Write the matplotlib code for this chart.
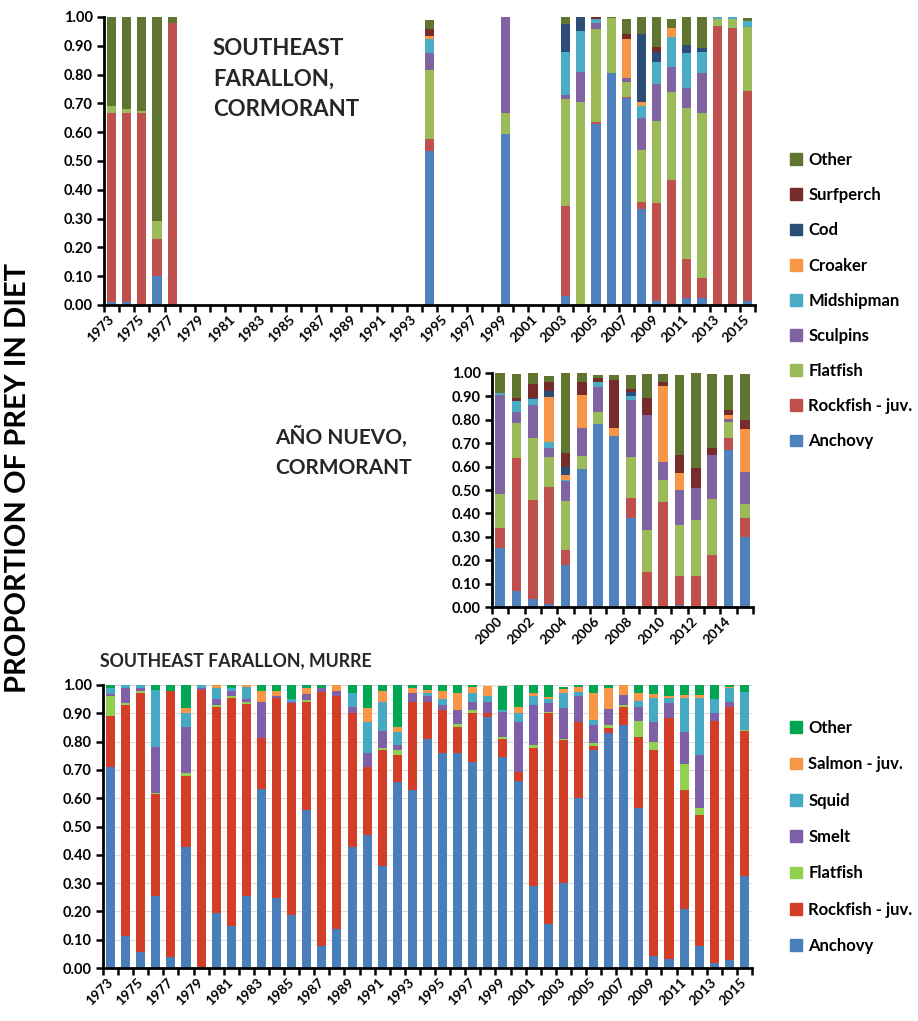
import numpy as np
import matplotlib
matplotlib.use("Agg")
import matplotlib.pyplot as plt
from matplotlib.patches import Patch

plt.rcParams['font.family'] = ['Lato', 'DejaVu Sans']
plt.rcParams['font.weight'] = 'bold'

# ---- data ----
all_years = list(range(1973, 2016))

# Southeast Farallon cormorant (only years with samples)
sefi_corm_years = [1973, 1974, 1975, 1976, 1977, 1994, 1999, 2003, 2004, 2005,
                   2006, 2007, 2008, 2009, 2010, 2011, 2012, 2013, 2014, 2015]
sc_anchovy = [.01, .01, .005, .10, 0, .535, .595, .03, 0, .63, .804, .72, .333, .014, 0, .023, .025, 0, 0, .014]
sc_rockfish = [.655, .655, .66, .13, .98, .04, 0, .315, 0, .007, 0, .003, .023, .341, .434, .137, .068, .968, .961, .728]
sc_flatfish = [.025, .015, .01, .06, 0, .24, .07, .37, .705, .32, .193, .05, .182, .285, .307, .525, .573, .025, .032, .223]
sc_sculpins = [0, 0, 0, 0, 0, .06, .335, .015, .105, .021, 0, .016, .11, .127, .087, .07, .138, 0, 0, 0]
sc_midshipman = [0, 0, 0, 0, 0, .05, 0, .15, .14, .015, 0, 0, .044, .076, .104, .119, .076, .007, .007, .02]
sc_croaker = [0, 0, 0, 0, 0, .01, 0, 0, 0, 0, 0, .133, .014, 0, .029, 0, 0, 0, 0, 0]
sc_cod = [0, 0, 0, 0, 0, 0, 0, .095, .05, 0, 0, 0, .234, .037, 0, .029, .014, 0, 0, 0]
sc_surfperch = [0, 0, 0, 0, 0, .025, 0, 0, 0, .007, 0, .018, 0, .015, 0, 0, 0, 0, 0, 0]
sc_other = [.31, .32, .325, .71, .02, .03, 0, .025, 0, 0, .003, .053, .06, .105, .032, .097, .106, 0, 0, .01]

# Año Nuevo cormorant
an_years = list(range(2000, 2016))
an_anchovy = [.253, .067, .036, .014, .179, .589, .781, .731, .379, 0, 0, .01, 0, 0, .671, .3]
an_rockfish = [.083, .569, .421, .5, .064, 0, 0, 0, .088, .15, .45, .121, .131, .221, .05, .079]
an_flatfish = [.147, .15, .267, .129, .21, .057, .052, 0, .173, .181, .093, .219, .24, .239, .068, .06]
an_sculpins = [.424, .047, .14, .038, .086, .118, .107, 0, .246, .488, .078, .15, .136, .19, .014, .14]
an_midshipman = [.007, .046, .026, .022, .004, 0, .02, 0, .017, .003, 0, 0, 0, 0, 0, 0]
an_croaker = [0, 0, 0, .194, .021, .14, 0, .033, 0, 0, .325, .071, 0, 0, .018, .181]
an_cod = [0, 0, .005, .024, .033, 0, 0, 0, .016, 0, 0, 0, 0, 0, 0, 0]
an_surfperch = [0, .014, .058, .04, .063, .056, .019, .207, .012, .071, .014, .079, .089, .029, .022, .04]
an_other = [.086, .104, .047, .028, .34, .04, .014, .022, .062, .104, .037, .343, .404, .318, .15, .197]

# Southeast Farallon murre (1973-2015)
mu_anchovy = [.712, .112, .055, .256, .039, .429, .005, .196, .149, .256, .632, .249, .188, .559, .079,
              .138, .429, .471, .359, .659, .629, .808, .759, .759, .729, .886, .745, .661, .288, .156,
              .3, .6, .771, .832, .859, .565, .044, .032, .21, .079, .018, .027, .324]
mu_rockfish = [.18, .817, .918, .359, .941, .251, .977, .725, .804, .676, .18, .706, .747, .382, .897,
               .823, .473, .241, .412, .094, .312, .133, .153, .092, .171, .014, .063, .03, .488, .744,
               .504, .271, .014, .015, .062, .253, .727, .85, .42, .462, .856, .897, .514]
mu_flatfish = [.069, .009, .007, .005, 0, .01, 0, .009, .008, .009, 0, 0, 0, .006, 0,
               0, 0, 0, .005, .018, 0, 0, 0, .011, .012, 0, .007, 0, .012, .006,
               .004, 0, .009, .012, .008, .056, .029, 0, .091, .024, 0, 0, .002]
mu_smelt = [.007, .05, .008, .16, 0, .161, .008, .02, .019, .009, .129, .006, .006, .021, .012,
            .019, .019, .047, .063, .017, .032, .02, .017, .05, .029, .041, .091, .18, .141, .029,
            .11, .09, .065, .055, .036, .047, .071, .056, .114, .188, .028, .017, 0]
mu_squid = [.02, .012, .012, .202, 0, .051, .01, .038, .008, .042, 0, 0, .009, 0, 0,
            0, .052, .112, .102, .047, 0, .012, .02, 0, .032, .02, .006, .031, .032, .014,
            .053, .015, .017, 0, 0, .024, .082, .015, .118, .2, .047, .047, .136]
mu_salmon = [0, 0, 0, 0, 0, .018, 0, .012, 0, .008, .039, .019, 0, .02, 0,
             .02, 0, .049, .039, .016, .015, .009, .031, .061, .019, .035, 0, .019, .012, .007,
             .014, .016, .097, .074, .035, .028, .015, .008, .012, .012, 0, .006, 0]
mu_other = [.012, 0, 0, .018, .02, .08, 0, 0, .012, 0, .02, .02, .05, .012, .012,
            0, .027, .08, .02, .149, .012, .018, .02, .027, .008, 0, .084, .079, .027, .044,
            .009, .008, .027, .012, 0, .027, .032, .039, .035, .035, .051, .006, .024]

corm_labels = ["Anchovy", "Rockfish - juv.", "Flatfish", "Sculpins", "Midshipman",
               "Croaker", "Cod", "Surfperch", "Other"]
corm_colors = ["#4F81BD", "#C0504D", "#9BBB59", "#8064A2", "#4BACC6",
               "#F79646", "#2C4D75", "#772C2A", "#5F7530"]
murre_labels = ["Anchovy", "Rockfish - juv.", "Flatfish", "Smelt", "Squid", "Salmon - juv.", "Other"]
murre_colors = ["#4A7EBB", "#D43D27", "#92D050", "#7F5FA8", "#46AAC5", "#F79646", "#00A651"]


def stacked(ax, xpos, series, colors, width=0.6):
    bottom = np.zeros(len(xpos))
    for vals, c in zip(series, colors):
        vals = np.array(vals)
        ax.bar(xpos, vals, width, bottom=bottom, color=c, linewidth=0)
        bottom += vals


def style_axes(ax, years, step=2):
    n = len(years)
    ax.set_ylim(0, 1)
    ax.set_xlim(-0.5, n - 0.5)
    ax.set_yticks(np.arange(0, 1.01, 0.1))
    ax.set_yticklabels(["%.2f" % v for v in np.arange(0, 1.01, 0.1)], fontsize=10.5)
    ax.set_xticks(range(0, n, step))
    ax.set_xticklabels([str(y) for y in years[::step]], rotation=45, ha='right',
                       va='center', rotation_mode='anchor', fontsize=10)
    ax.set_xticks(np.arange(-0.5, n, 1), minor=True)
    ax.tick_params(axis='x', which='major', length=0, pad=9)
    ax.tick_params(axis='x', which='minor', length=5, width=1.8)
    ax.tick_params(axis='y', length=5, width=1.8, pad=3)
    for s in ['top', 'right']:
        ax.spines[s].set_visible(False)
    for s in ['left', 'bottom']:
        ax.spines[s].set_linewidth(2)


W, H = 918, 1021
fig = plt.figure(figsize=(W / 100, H / 100), dpi=100)


def px_axes(x0, y0, x1, y1):
    return fig.add_axes([x0 / W, 1 - y1 / H, (x1 - x0) / W, (y1 - y0) / H])


# top: SEFI cormorant
ax1 = px_axes(104, 17, 755, 305)
xpos = [all_years.index(y) for y in sefi_corm_years]
stacked(ax1, xpos, [sc_anchovy, sc_rockfish, sc_flatfish, sc_sculpins, sc_midshipman,
                    sc_croaker, sc_cod, sc_surfperch, sc_other], corm_colors)
style_axes(ax1, all_years)
fig.text(213 / W, 1 - 38 / H, "SOUTHEAST\nFARALLON,\nCORMORANT", fontsize=16,
         fontweight='bold', color='#262626', va='top', ha='left', linespacing=1.55)

# middle: Año Nuevo cormorant
ax2 = px_axes(492, 373, 753, 607)
stacked(ax2, range(len(an_years)), [an_anchovy, an_rockfish, an_flatfish, an_sculpins,
                                    an_midshipman, an_croaker, an_cod, an_surfperch, an_other],
        corm_colors)
style_axes(ax2, an_years)
fig.text(275 / W, 1 - 426 / H, "AÑO NUEVO,\nCORMORANT", fontsize=15,
         fontweight='bold', color='#262626', va='top', ha='left', linespacing=1.65)

handles = [Patch(color=c, label=l) for c, l in zip(corm_colors, corm_labels)][::-1]
fig.legend(handles=handles, loc='upper left', bbox_to_anchor=(790 / W, 1 - 152 / H),
           frameon=False, fontsize=12, labelspacing=1.15, handlelength=0.7,
           handleheight=0.7, handletextpad=0.4, borderpad=0, borderaxespad=0)

# bottom: SEFI murre
ax3 = px_axes(103, 685, 752, 968)
ax3.yaxis.grid(True, color='#dcdcdc', linewidth=0.8)
ax3.set_axisbelow(True)
stacked(ax3, range(len(all_years)), [mu_anchovy, mu_rockfish, mu_flatfish, mu_smelt,
                                     mu_squid, mu_salmon, mu_other], murre_colors)
style_axes(ax3, all_years)
fig.text(100 / W, 1 - 661 / H, "SOUTHEAST FARALLON, MURRE", fontsize=12.8,
         fontweight='bold', color='#262626', va='center', ha='left')

handles = [Patch(color=c, label=l) for c, l in zip(murre_colors, murre_labels)][::-1]
fig.legend(handles=handles, loc='upper left', bbox_to_anchor=(790 / W, 1 - 720 / H),
           frameon=False, fontsize=12, labelspacing=1.22, handlelength=0.7,
           handleheight=0.7, handletextpad=0.4, borderpad=0, borderaxespad=0)

fig.text(18 / W, 1 - 478 / H, "PROPORTION OF PREY IN DIET", rotation=90, fontsize=21,
         fontweight='bold', color='black', va='center', ha='center')

fig.savefig("out.png", dpi=100)
